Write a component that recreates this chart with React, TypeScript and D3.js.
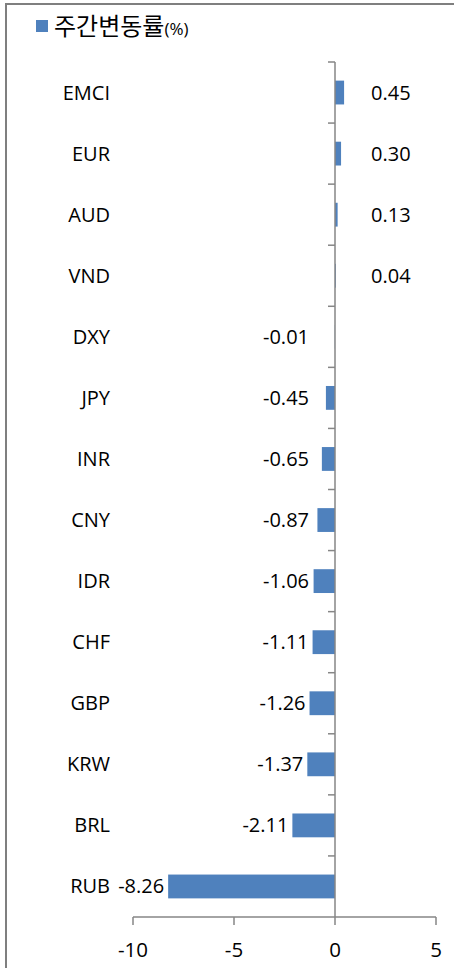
import * as d3 from "d3";

const categories = ["EMCI", "EUR", "AUD", "VND", "DXY", "JPY", "INR", "CNY", "IDR", "CHF", "GBP", "KRW", "BRL", "RUB"];
const values = [0.45, 0.3, 0.13, 0.04, -0.01, -0.45, -0.65, -0.87, -1.06, -1.11, -1.26, -1.37, -2.11, -8.26];
const xTicks = [-10, -5, 0, 5];
const legendLabel = "주간변동률";
const legendUnit = "(%)";

const W = 454;
const H = 968;
const font = "'Open Sans', Lato, sans-serif";
const barColor = "#4f81bd";
const axisColor = "#868686";

function App() {
	const x = d3.scaleLinear().domain([-10, 5]).range([133, 436]);
	const y = d3.scaleBand().domain(categories).range([62, 917]).paddingInner(0.61).paddingOuter(0.305);
	const step = y.step();
	const x0 = x(0);

	// value labels: positive ones start a bit right of zero, negative ones end left of the bar
	const labelX = (v: number) => (v >= 0 ? x0 + 36 : Math.min(x(v) - 4, x0 - 26));

	return (
		<svg
			width={W}
			height={H}
			style={{ position: "absolute", left: 0, top: 0, background: "#fff" }}
			fontFamily={font}
		>
			<rect x={6} y={4} width={W + 20} height={H + 20} fill="#fff" stroke="#7f7f7f" strokeWidth={2} />

			{/* legend */}
			<rect x={36} y={20} width={12} height={12} fill={barColor} />
			<text x={54} y={35} fontSize={24} fontFamily="'Noto Sans CJK KR', sans-serif" fill="#000">
				{legendLabel}
				<tspan fontSize={17} fontFamily={font}>{legendUnit}</tspan>
			</text>

			{/* bars */}
			{categories.map((c, i) => {
				const v = values[i];
				return (
					<rect
						key={c}
						x={Math.min(x(v), x0)}
						y={y(c)}
						width={Math.abs(x(v) - x0)}
						height={y.bandwidth()}
						fill={barColor}
					/>
				);
			})}

			{/* y axis */}
			<line x1={x0} x2={x0} y1={62} y2={917} stroke={axisColor} strokeWidth={1.5} />
			{categories.map((c, i) => (
				<line key={"t" + c} x1={x0 - 7} x2={x0} y1={62 + i * step} y2={62 + i * step} stroke={axisColor} strokeWidth={1.5} />
			))}

			{/* x axis */}
			<line x1={x(-10)} x2={x(5)} y1={917} y2={917} stroke={axisColor} strokeWidth={1.5} />
			{xTicks.map((t) => (
				<g key={"x" + t}>
					<line x1={x(t)} x2={x(t)} y1={917} y2={925} stroke={axisColor} strokeWidth={1.5} />
					<text x={x(t)} y={957} textAnchor="middle" fontSize={20.5} fill="#000">
						{t}
					</text>
				</g>
			))}

			{/* category labels */}
			{categories.map((c) => (
				<text key={"c" + c} x={110} y={(y(c) ?? 0) + y.bandwidth() / 2 + 7} textAnchor="end" fontSize={20} fill="#000">
					{c}
				</text>
			))}

			{/* value labels */}
			{categories.map((c, i) => {
				const v = values[i];
				return (
					<text
						key={"v" + c}
						x={labelX(v)}
						y={(y(c) ?? 0) + y.bandwidth() / 2 + 7}
						textAnchor={v >= 0 ? "start" : "end"}
						fontSize={20}
						fill="#000"
					>
						{v.toFixed(2)}
					</text>
				);
			})}
		</svg>
	);
}

export default App;
